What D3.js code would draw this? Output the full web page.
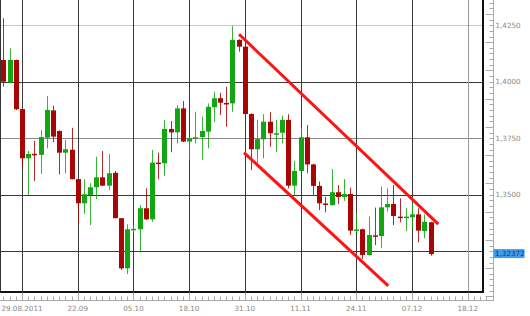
<!DOCTYPE html>
<html>
<head>
<meta charset="utf-8">
<script src="https://cdn.jsdelivr.net/npm/d3@7/dist/d3.min.js"></script>
<style>
  body { margin: 0; background: #fff; }
  text { font-family: "DejaVu Sans", sans-serif; font-size: 7.2px; fill: #888; }
</style>
</head>
<body>
<div id="chart"></div>
<script>
// daily EUR/USD candles
var opens  = [1.4096,1.3996,1.4096,1.3879,1.3661,1.3681,1.3676,1.3752,1.3873,1.3782,
              1.3686,1.3699,1.3569,1.3462,1.3499,1.3533,1.3577,1.3540,1.3597,1.3396,
              1.3174,1.3347,1.3347,1.3440,1.3391,1.3642,1.3639,1.3791,1.3776,1.3882,
              1.3735,1.3750,1.3755,1.3779,1.3887,1.3927,1.3906,1.3904,1.4185,1.4155,
              1.3857,1.3701,1.3745,1.3823,1.3768,1.3774,1.3831,1.3540,1.3605,1.3754,
              1.3634,1.3539,1.3461,1.3454,1.3511,1.3490,1.3503,1.3342,1.3347,1.3233,
              1.3320,1.3317,1.3444,1.3459,1.3403,1.3399,1.3400,1.3413,1.3339,1.3378];
var highs  = [1.4281,1.4148,1.4098,1.3882,1.3693,1.3738,1.3786,1.3937,1.3894,1.3784,
              1.3742,1.3796,1.3571,1.3568,1.3550,1.3668,1.3693,1.3679,1.3605,1.3396,
              1.3369,1.3365,1.3454,1.3528,1.3698,1.3686,1.3831,1.3826,1.3897,1.3915,
              1.3755,1.3867,1.3845,1.3904,1.3956,1.3951,1.3978,1.4246,1.4188,1.4157,
              1.3860,1.3831,1.3856,1.3865,1.3831,1.3850,1.3856,1.3650,1.3794,1.3808,
              1.3637,1.3558,1.3491,1.3614,1.3543,1.3569,1.3531,1.3418,1.3350,1.3403,
              1.3443,1.3535,1.3528,1.3543,1.3484,1.3440,1.3462,1.3440,1.3413,1.3380];
var lows   = [1.3978,1.3993,1.3874,1.3617,1.3499,1.3561,1.3592,1.3705,1.3732,1.3590,
              1.3595,1.3567,1.3373,1.3416,1.3366,1.3480,1.3538,1.3521,1.3396,1.3167,
              1.3149,1.3330,1.3245,1.3388,1.3380,1.3568,1.3584,1.3688,1.3727,1.3733,
              1.3654,1.3727,1.3654,1.3705,1.3823,1.3853,1.3801,1.3867,1.4133,1.3850,
              1.3609,1.3641,1.3661,1.3712,1.3688,1.3727,1.3528,1.3499,1.3603,1.3595,
              1.3499,1.3432,1.3422,1.3452,1.3458,1.3472,1.3322,1.3330,1.3215,1.3230,
              1.3277,1.3263,1.3425,1.3366,1.3378,1.3339,1.3351,1.3289,1.3307,1.3230];
var closes = [1.4000,1.4096,1.3878,1.3661,1.3680,1.3677,1.3755,1.3875,1.3757,1.3686,
              1.3701,1.3569,1.3462,1.3502,1.3533,1.3577,1.3540,1.3595,1.3396,1.3174,
              1.3347,1.3349,1.3440,1.3391,1.3642,1.3638,1.3791,1.3776,1.3882,1.3735,
              1.3750,1.3754,1.3782,1.3889,1.3927,1.3907,1.3902,1.4185,1.4155,1.3857,
              1.3701,1.3746,1.3823,1.3772,1.3772,1.3831,1.3540,1.3605,1.3754,1.3634,
              1.3539,1.3462,1.3457,1.3511,1.3490,1.3503,1.3341,1.3346,1.3233,1.3322,
              1.3316,1.3444,1.3459,1.3406,1.3399,1.3403,1.3413,1.3341,1.3380,1.32372];

var dateTickIdx = [3, 12, 21, 30, 39, 48, 57, 66, 75];
var dateLabels = ["29.08.2011", "22.09", "05.10", "18.10", "31.10", "11.11", "24.11", "07.12", "18.12"];
var priceTicks = [1.4250, 1.4000, 1.3750, 1.3500, 1.3250];
var priceLabels = ["1,4250", "1,4000", "1,3750", "1,3500", ""];
var lastPrice = 1.32372;
var lastLabel = "1,32372";

// channel drawn over the chart: [candle index, price]
var trendUpper = [[38.06, 1.4210], [70.25, 1.3370]];
var trendLower = [[38.86, 1.3686], [62.17, 1.3097]];

var width = 530, height = 316;
var plotRight = 483, plotBottom = 292;

var svg = d3.select("#chart").append("svg")
    .attr("width", width)
    .attr("height", height);

svg.append("rect").attr("width", width).attr("height", height).attr("fill", "#fff");

var x = d3.scaleLinear().domain([0, 75]).range([3.43, 467.7]);
var y = d3.scaleLinear().domain([1.3250, 1.4250]).range([251.2, 25.2]);

var greenColor = "#12a712", redColor = "#aa0505";

// grid
var gridColor = function (v) {
    if (v == 1.4250) return "#c8c8c8";
    if (v == 1.3750) return "#8a8a8a";
    return "#3a3a3a";
};
svg.append("g").selectAll("line")
    .data(priceTicks)
    .enter().append("line")
    .attr("x1", 0).attr("x2", plotRight)
    .attr("y1", function (d) { return Math.round(y(d)) + 0.5; })
    .attr("y2", function (d) { return Math.round(y(d)) + 0.5; })
    .attr("stroke", gridColor);

svg.append("g").selectAll("line")
    .data(dateTickIdx)
    .enter().append("line")
    .attr("x1", function (d) { return Math.round(x(d)) + 0.5; })
    .attr("x2", function (d) { return Math.round(x(d)) + 0.5; })
    .attr("y1", 0).attr("y2", plotBottom)
    .attr("stroke", function (d, i) { return i == dateTickIdx.length - 1 ? "#9a9a9a" : "#3a3a3a"; });

// candles
var idx = d3.range(opens.length);
var candles = svg.append("g").selectAll("g")
    .data(idx)
    .enter().append("g");

candles.append("line")
    .attr("x1", function (i) { return Math.round(x(i)) + 0.5; })
    .attr("x2", function (i) { return Math.round(x(i)) + 0.5; })
    .attr("y1", function (i) { return y(highs[i]); })
    .attr("y2", function (i) { return y(lows[i]); })
    .attr("stroke", function (i) { return closes[i] >= opens[i] ? greenColor : redColor; })
    .attr("stroke-opacity", 0.85);

candles.append("rect")
    .attr("x", function (i) { return Math.round(x(i)) - 2; })
    .attr("width", 5)
    .attr("y", function (i) { return y(Math.max(opens[i], closes[i])); })
    .attr("height", function (i) { return Math.max(1.5, Math.abs(y(opens[i]) - y(closes[i]))); })
    .attr("fill", function (i) { return closes[i] >= opens[i] ? greenColor : redColor; });

// trend channel
var line = d3.line()
    .x(function (d) { return x(d[0]); })
    .y(function (d) { return y(d[1]); });

svg.append("g").selectAll("path")
    .data([trendUpper, trendLower])
    .enter().append("path")
    .attr("d", line)
    .attr("fill", "none")
    .attr("stroke", "#ff1414")
    .attr("stroke-width", 3);

// frame
svg.append("line").attr("x1", 0.5).attr("x2", 0.5).attr("y1", 0).attr("y2", plotBottom)
    .attr("stroke", "#333");
svg.append("line").attr("x1", 0).attr("x2", plotRight + 1).attr("y1", plotBottom).attr("y2", plotBottom)
    .attr("stroke", "#111").attr("stroke-width", 2);
svg.append("line").attr("x1", plotRight).attr("x2", plotRight).attr("y1", 0).attr("y2", plotBottom + 1)
    .attr("stroke", "#111").attr("stroke-width", 2);

// right price axis
var yAxis = svg.append("g").attr("transform", "translate(493.5,0)");
yAxis.append("line").attr("y1", 0).attr("y2", 301).attr("stroke", "#aaa");
var minorY = d3.range(1.3050, 1.4375, 0.0025);
yAxis.selectAll("line.minor")
    .data(minorY)
    .enter().append("line")
    .attr("class", "minor")
    .attr("x1", function (d, i) { return i % 5 == 0 ? -8 : -4; }).attr("x2", 0)
    .attr("y1", function (d) { return Math.round(y(d)) + 0.5; })
    .attr("y2", function (d) { return Math.round(y(d)) + 0.5; })
    .attr("stroke", "#aaa");
yAxis.selectAll("text")
    .data(priceTicks)
    .enter().append("text")
    .attr("x", 2)
    .attr("y", function (d) { return y(d); })
    .attr("dy", "0.35em")
    .text(function (d, i) { return priceLabels[i]; });

// current price marker
yAxis.append("rect")
    .attr("x", 0).attr("y", y(lastPrice) - 5)
    .attr("width", 31).attr("height", 9)
    .attr("fill", "#3f9ef2");
yAxis.append("text")
    .attr("x", 1.5).attr("y", y(lastPrice) - 0.5).attr("dy", "0.35em")
    .style("fill", "#1d3350")
    .text(lastLabel);

// bottom date axis
var xAxis = svg.append("g").attr("transform", "translate(0,300.5)");
xAxis.append("line").attr("x1", 0).attr("x2", 494).attr("stroke", "#aaa");
xAxis.selectAll("line.minor")
    .data(d3.range(0, 79))
    .enter().append("line")
    .attr("class", "minor")
    .attr("x1", function (d) { return Math.round(x(d)) + 0.5; })
    .attr("x2", function (d) { return Math.round(x(d)) + 0.5; })
    .attr("y1", function (d) { return dateTickIdx.indexOf(d) >= 0 ? -8 : -4; })
    .attr("y2", 0)
    .attr("stroke", "#aaa");
xAxis.selectAll("text")
    .data(dateTickIdx)
    .enter().append("text")
    .attr("x", function (d) { return x(d); })
    .attr("y", 10.5)
    .attr("text-anchor", "middle")
    .text(function (d, i) { return dateLabels[i]; });
</script>
</body>
</html>
